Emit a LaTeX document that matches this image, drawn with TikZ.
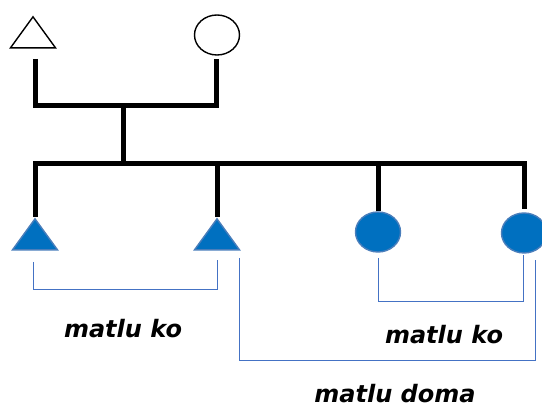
\documentclass[tikz,border=0pt]{standalone}
\usepackage{fontspec}
\setmainfont{DejaVu Sans}
\usetikzlibrary{shapes.geometric}

\definecolor{kinblue}{HTML}{0070C0}
\definecolor{kinedge}{HTML}{4A7EBB}
\definecolor{kinline}{HTML}{4472C4}

\begin{document}
\begin{tikzpicture}[x=1pt,y=-1pt,
  male/.style={isosceles triangle, isosceles triangle stretches, shape border rotate=90,
    minimum width=45pt, minimum height=31pt, inner sep=0pt, anchor=apex},
  female/.style={ellipse, minimum width=45pt, minimum height=40pt, inner sep=0pt},
  open/.style={draw=black, line width=1.4pt},
  filled/.style={draw=kinedge, fill=kinblue, line width=1.4pt},
  tie/.style={line width=5pt, line join=miter},
  kin/.style={draw=kinline, line width=1pt},
  term/.style={font=\fontsize{24}{27}\selectfont\bfseries\itshape, anchor=base, inner sep=0pt}]
\useasboundingbox (0,0) rectangle (542,409);

% parents and their tie
\node[male,open] (father) at (33,15) {};
\node[female,open] (mother) at (217,35) {};
\coordinate (fa) at (35,59);
\coordinate (mo) at (216,59);
\draw[tie] (fa) -- ++(0,47) -| (mo);
\coordinate (union) at (123,106);
\coordinate (sibs) at (123,164);
\draw[tie] (union) -- (sibs);

% children
\node[male,filled] (son1) at (35,217) {};
\node[male,filled] (son2) at (217,217) {};
\node[female,filled] (dau1) at (378,232) {};
\node[female,filled] (dau2) at (524,233) {};

\draw[tie] (son1.apex) |- (sibs) -| ([yshift=3pt]dau2.north);
\draw[tie] (son2.apex) -- (son2.apex |- sibs);
\draw[tie] (dau1.north) -- (dau1.north |- sibs);

% brackets
\draw[kin] (33,262) |- (217,290) -- (217,260);
\draw[kin] (378,258) |- (523,302) -- (523,255);
\draw[kin] (239,258) |- (535,361) -- (535,260);

\node[term] (ko1) at (123,338) {matlu ko};
\node[term] (ko2) at (444,344) {matlu ko};
\node[term] (doma) at (395,403) {matlu doma};
\end{tikzpicture}
\end{document}
